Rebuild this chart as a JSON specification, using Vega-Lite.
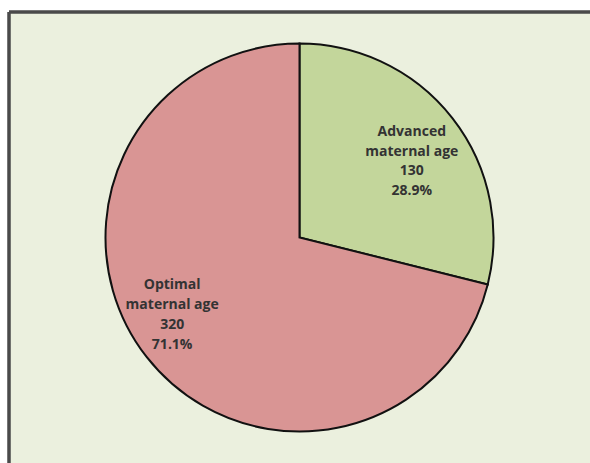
{
  "$schema": "https://vega.github.io/schema/vega-lite/v6.json",
  "autosize": "none",
  "width": 581,
  "height": 451,
  "padding": {"left": 9, "top": 12, "right": 0, "bottom": 0},
  "background": "#ffffff",
  "view": {"fill": "#EBF0DE", "stroke": "#4a4a4a", "strokeWidth": 3.5, "strokeDash": [581, 1032, 451, 0]},
  "data": {"values": [
    {"category": "Advanced maternal age", "count": 130, "pct": "28.9%"},
    {"category": "Optimal maternal age", "count": 320, "pct": "71.1%"}
  ]},
  "transform": [
    {"calculate": "replace(datum.category, ' maternal', '\\nmaternal') + '\\n' + datum.count + '\\n' + datum.pct", "as": "label"}
  ],
  "encoding": {
    "theta": {"field": "count", "type": "quantitative", "stack": true},
    "order": {"field": "category", "type": "nominal", "sort": "ascending"},
    "color": {"field": "category", "type": "nominal", "legend": null,
      "scale": {"domain": ["Advanced maternal age", "Optimal maternal age"], "range": ["#C3D69B", "#D99594"]}}
  },
  "layer": [
    {"mark": {"type": "arc", "outerRadius": 194, "stroke": "#111111", "strokeWidth": 2}},
    {"transform": [{"calculate": "datum.category == 'Advanced maternal age' ? datum.label : ''", "as": "lab"}],
     "mark": {"type": "text", "radius": 140, "dx": 2, "dy": -19, "font": "Open Sans", "fontWeight": "bold", "fontSize": 14, "lineBreak": "\n", "lineHeight": 19.5, "align": "center", "baseline": "middle"},
     "encoding": {"text": {"field": "lab", "type": "nominal"}, "color": {"value": "#333333"}}},
    {"transform": [{"calculate": "datum.category == 'Optimal maternal age' ? datum.label : ''", "as": "lab"}],
     "mark": {"type": "text", "radius": 140, "dx": -17, "dy": -39, "font": "Open Sans", "fontWeight": "bold", "fontSize": 14, "lineBreak": "\n", "lineHeight": 20, "align": "center", "baseline": "middle"},
     "encoding": {"text": {"field": "lab", "type": "nominal"}, "color": {"value": "#333333"}}}
  ]
}
